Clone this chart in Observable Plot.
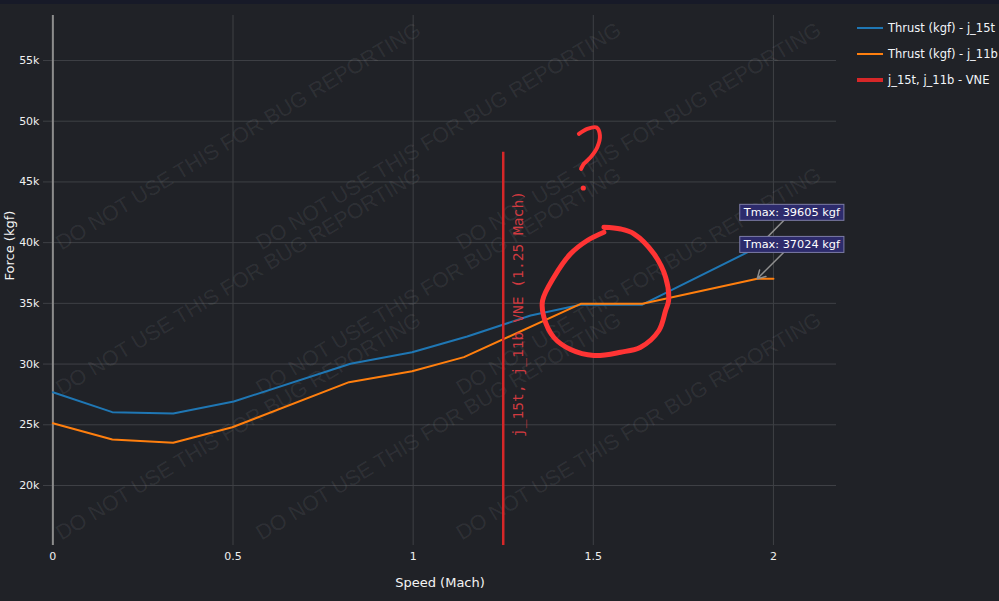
<!DOCTYPE html>
<html>
<head>
<meta charset="utf-8">
<script src="https://cdn.jsdelivr.net/npm/d3@7"></script>
<script src="https://cdn.jsdelivr.net/npm/@observablehq/plot@0.6"></script>
<style>
  html, body { margin: 0; padding: 0; background: #202227; }
  #wrap { position: relative; width: 999px; height: 601px; overflow: hidden; background: #202227; }
  #topstrip { position: absolute; left: 0; top: 0; width: 999px; height: 4px; background: #171a28; }
  #legend { position: absolute; left: 857px; top: 0; width: 142px; height: 100px; overflow: hidden;
            font-family: "DejaVu Sans", sans-serif; font-size: 11.5px; color: #f2f5fa; white-space: nowrap; }
  .item { position: absolute; left: 0; height: 16px; }
  .swatch { position: absolute; left: 0; width: 26px; }
  .lbl { position: absolute; left: 31px; top: 0; line-height: 16px; }
</style>
</head>
<body>
<div id="wrap"><div id="topstrip"></div><div id="legend"></div></div>
<script>
// ---------- data ----------
const xTicks = [0, 0.5, 1, 1.5, 2];
const yTicks = [20000, 25000, 30000, 35000, 40000, 45000, 50000, 55000];

const machJ15t   = [0, 0.165, 0.334, 0.502, 0.826, 0.997, 1.150, 1.326, 1.465, 1.636, 1.955, 2.0];
const thrustJ15t = [27680, 26040, 25930, 26920, 30020, 30980, 32270, 34000, 34890, 34890, 39605, 39605];

const machJ11b   = [0, 0.165, 0.334, 0.498, 0.822, 0.997, 1.141, 1.465, 1.636, 1.955, 2.0];
const thrustJ11b = [25130, 23790, 23520, 24800, 28510, 29410, 30570, 34960, 34960, 37024, 37024];

const seriesNames = ["Thrust (kgf) - j_15t", "Thrust (kgf) - j_11b", "j_15t, j_11b - VNE"];
const seriesColors = ["#1f77b4", "#ff7f0e", "#d62728"];

const vneMach = 1.25;
const vneLow = 0;
const vneTop = 47450;
const vneLabel = "j_15t, j_11b VNE (1.25 Mach)";
const vneLabelKgf = 34120;

const tmaxText = ["Tmax: 39605 kgf", "Tmax: 37024 kgf"];
const tmaxMach = [1.955, 1.955];
const tmaxKgf = [39605, 37024];
const tmaxLabelMach = [2.051, 2.051];
const tmaxLabelKgf = [42506, 39863];

const watermarkText = "DO NOT USE THIS FOR BUG REPORTING";
const watermarkMach = [0.515, 1.0705, 1.626];
const watermarkKgf = [48740, 36800, 24859];

// hand-drawn red scribbles (in chart units)
const circleMach = [1.5294, 1.5758, 1.6127, 1.6682, 1.7007, 1.7090, 1.7007, 1.6821, 1.6313, 1.5758, 1.5017, 1.4370, 1.3906, 1.3628, 1.3592, 1.3906, 1.4370, 1.4833, 1.5294];
const circleKgf  = [41271, 41123, 40727, 39081, 37154, 35235, 34411, 32764, 31389, 30977, 30706, 31200, 32188, 33860, 35235, 37154, 39081, 40176, 40859];
const qMach = [1.4600, 1.4833, 1.5092, 1.5183, 1.5111, 1.4925, 1.4739, 1.4661];
const qKgf  = [48962, 49374, 49481, 48823, 47859, 47035, 46492, 46080];
const qDotMach = [1.4722];
const qDotKgf = [44499];

// ---------- tables ----------
const j15t = machJ15t.map((m, i) => ({mach: m, kgf: thrustJ15t[i]}));
const j11b = machJ11b.map((m, i) => ({mach: m, kgf: thrustJ11b[i]}));
const tmax = tmaxText.map((t, i) => ({text: t, mach: tmaxMach[i], kgf: tmaxKgf[i], lm: tmaxLabelMach[i], lk: tmaxLabelKgf[i]}));
const wm = [];
for (const k of watermarkKgf) for (const m of watermarkMach) wm.push({mach: m, kgf: k});
const circle = circleMach.map((m, i) => ({mach: m, kgf: circleKgf[i]}));
const qmark = qMach.map((m, i) => ({mach: m, kgf: qKgf[i]}));
const qdot = qDotMach.map((m, i) => ({mach: m, kgf: qDotKgf[i]}));

const scribble = "#ff3434";

const chart = Plot.plot({
  width: 999,
  height: 601,
  marginLeft: 43,
  marginRight: 163,
  marginTop: 15,
  marginBottom: 56,
  x: {domain: [-0.026, 2.175]},
  y: {domain: [15059, 58705]},
  style: {background: "transparent", color: "#ececec", fontFamily: "DejaVu Sans, sans-serif", fontSize: "11px"},
  marks: [
    Plot.gridX(xTicks, {stroke: "#3e4045", strokeOpacity: 1, strokeWidth: 1}),
    Plot.gridY(yTicks, {stroke: "#3e4045", strokeOpacity: 1, strokeWidth: 1}),
    Plot.ruleX([0], {stroke: "#8c8c8c", strokeWidth: 2}),
    Plot.axisX({ticks: xTicks, tickSize: 0, tickPadding: 7, tickFormat: d => String(d), label: null, fill: "#f0f0f0"}),
    Plot.axisY({ticks: yTicks, tickSize: 0, tickPadding: 4, tickFormat: d => (d / 1000) + "k", label: null, fill: "#f0f0f0"}),
    Plot.text(["Speed (Mach)"], {frameAnchor: "bottom", dy: 37, text: d => d, fontSize: 13, fill: "#f4f4f4", lineAnchor: "middle"}),
    Plot.text(["Force (kgf)"], {frameAnchor: "left", dx: -34, rotate: -90, text: d => d, fontSize: 13, fill: "#f4f4f4", lineAnchor: "middle"}),
    Plot.text(wm, {x: "mach", y: "kgf", text: () => watermarkText, rotate: -31, fontSize: 21.3,
      fontFamily: "Liberation Sans, Arial, sans-serif", fill: "#ffffff", fillOpacity: 0.075}),
    Plot.line(j15t, {x: "mach", y: "kgf", stroke: seriesColors[0], strokeWidth: 2}),
    Plot.line(j11b, {x: "mach", y: "kgf", stroke: seriesColors[1], strokeWidth: 2}),
    Plot.ruleX([vneMach], {y1: vneLow, y2: vneTop, stroke: seriesColors[2], strokeWidth: 2.5, clip: true}),
    Plot.text([vneLabel], {x: vneMach, y: vneLabelKgf, text: d => d, rotate: -90, dx: 15.5, fontSize: 14.6,
      fontFamily: "DejaVu Sans Mono, monospace", fill: "#d23a40"}),
    Plot.arrow(tmax, {x1: "lm", y1: "lk", x2: "mach", y2: "kgf", stroke: "#8f8f8f", strokeWidth: 1.5, headLength: 9}),
    Plot.text(tmax, {x: "lm", y: "lk", text: "text", fill: "#ffffff", fontSize: 11.3, fontWeight: 500, className: "annot"}),
    Plot.line(circle, {x: "mach", y: "kgf", stroke: scribble, strokeWidth: 5, curve: "catmull-rom", strokeLinecap: "round", strokeLinejoin: "round"}),
    Plot.line(qmark, {x: "mach", y: "kgf", stroke: scribble, strokeWidth: 4, curve: "catmull-rom", strokeLinecap: "round", strokeLinejoin: "round"}),
    Plot.dot(qdot, {x: "mach", y: "kgf", r: 2.6, fill: scribble, stroke: "none"})
  ]
});

const wrap = document.getElementById("wrap");
chart.style.position = "absolute";
chart.style.left = "0";
chart.style.top = "0";
wrap.insertBefore(chart, document.getElementById("legend"));

// boxes behind the Tmax annotations
const svgRect = chart.getBoundingClientRect();
const annotG = chart.querySelector("g.annot");
if (annotG) {
  annotG.querySelectorAll("text").forEach(t => {
    const b = t.getBoundingClientRect();
    const r = document.createElementNS("http://www.w3.org/2000/svg", "rect");
    r.setAttribute("x", b.left - svgRect.left - 3);
    r.setAttribute("y", b.top - svgRect.top - 1.5);
    r.setAttribute("width", b.width + 6);
    r.setAttribute("height", b.height + 3);
    r.setAttribute("fill", "#2d2b6c");
    r.setAttribute("stroke", "#7c7ca6");
    r.setAttribute("stroke-width", "1");
    annotG.parentNode.insertBefore(r, annotG);
  });
}

// legend
const legend = document.getElementById("legend");
const legendTops = [20, 46, 72];
seriesNames.forEach((name, i) => {
  const it = document.createElement("div");
  it.className = "item";
  it.style.top = legendTops[i] + "px";
  const sw = document.createElement("div");
  sw.className = "swatch";
  const h = i === 2 ? 4 : 2;
  sw.style.height = h + "px";
  sw.style.top = (8 - h / 2) + "px";
  sw.style.background = seriesColors[i];
  const lb = document.createElement("div");
  lb.className = "lbl";
  lb.textContent = name;
  it.appendChild(sw);
  it.appendChild(lb);
  legend.appendChild(it);
});
</script>
</body>
</html>
